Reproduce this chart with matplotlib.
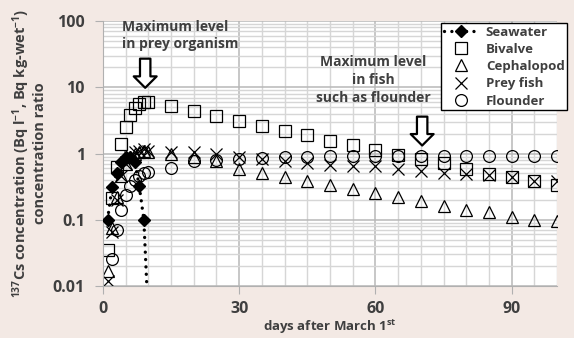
import matplotlib
matplotlib.use("Agg")
import matplotlib.pyplot as plt
from matplotlib.ticker import MultipleLocator, LogLocator, NullFormatter

plt.rcParams['font.family'] = ['Open Sans', 'DejaVu Sans']
plt.rcParams['font.weight'] = 'bold'
plt.rcParams['axes.labelweight'] = 'bold'
plt.rcParams['mathtext.fontset'] = 'custom'
plt.rcParams['mathtext.rm'] = 'Open Sans:bold'
plt.rcParams['mathtext.it'] = 'Open Sans:bold'
plt.rcParams['mathtext.bf'] = 'Open Sans:bold'

# --- data (days after March 1st)
sea_days = [1, 2, 3, 4, 5, 6, 7, 8, 9, 10]
seawater = [0.1, 0.31, 0.5, 0.75, 0.9, 0.9, 0.75, 0.32, 0.1, 0.003]

late_days = [15, 20, 25, 30, 35, 40, 45, 50, 55, 60, 65, 70, 75, 80, 85, 90, 95, 100]
early_days = [1, 2, 3, 4, 5, 6, 7, 8, 9, 10]

bivalve = [0.035, 0.21, 0.63, 1.4, 2.5, 3.8, 4.9, 5.5, 5.9, 6.0,
           5.2, 4.4, 3.7, 3.1, 2.6, 2.2, 1.88, 1.56, 1.33, 1.13, 0.95,
           0.82, 0.71, 0.59, 0.49, 0.44, 0.39, 0.34]
cephalopod = [0.017, 0.075, 0.22, 0.45, 0.7, 0.9, 1.0, 1.05, 1.1, 1.05,
              1.0, 0.88, 0.76, 0.58, 0.51, 0.44, 0.39, 0.33, 0.29, 0.25,
              0.22, 0.19, 0.16, 0.14, 0.13, 0.11, 0.1, 0.095]
prey_fish = [0.012, 0.065, 0.2, 0.45, 0.7, 0.9, 1.05, 1.1, 1.15, 1.1,
             1.06, 1.06, 1.0, 0.88, 0.82, 0.76, 0.72, 0.67, 0.65, 0.64,
             0.58, 0.55, 0.51, 0.49, 0.47, 0.44, 0.39, 0.38]
flounder_days = [2, 3, 4, 5, 6, 7, 8, 9, 10] + late_days
flounder = [0.026, 0.07, 0.14, 0.24, 0.32, 0.4, 0.45, 0.5, 0.53,
            0.6, 0.77, 0.8, 0.82, 0.85, 0.88, 0.9, 0.92, 0.92, 0.92,
            0.92, 0.92, 0.92, 0.92, 0.92, 0.92, 0.92, 0.92]

bg = "#f3e9e4"
txt = "#3f3f3f"

fig = plt.figure(figsize=(5.74, 3.38), dpi=100, facecolor=bg)
ax = fig.add_axes([0.1794, 0.1538, 0.9704 - 0.1794, 0.9379 - 0.1538])
ax.set_facecolor("white")

mk = dict(ls="none", mfc="none", mec="black", mew=0.9, ms=8.5)
ax.plot(sea_days, seawater, ls=(0, (0.01, 2.2)), lw=2.4, color="black",
        dash_capstyle="round", marker="D", ms=6.5, mfc="black",
        label="Seawater", zorder=4)
ax.plot(early_days + late_days, bivalve, marker="s", label="Bivalve", **mk)
ax.plot(early_days + late_days, cephalopod, marker="^", label="Cephalopod", **mk)
ax.plot(early_days + late_days, prey_fish, marker="x", label="Prey fish", **mk)
ax.plot(flounder_days, flounder, marker="o", label="Flounder", **mk)

# --- axes
ax.set_yscale("log")
ax.set_xlim(0, 100)
ax.set_ylim(0.01, 100)
ax.set_xticks([0, 30, 60, 90])
ax.set_yticks([0.01, 0.1, 1, 10, 100])
ax.set_yticklabels(["0.01", "0.1", "1", "10", "100"])
ax.xaxis.set_minor_locator(MultipleLocator(5))
ax.yaxis.set_minor_locator(LogLocator(base=10, subs=range(2, 10)))
ax.yaxis.set_minor_formatter(NullFormatter())
ax.tick_params(which="major", length=6, color="#b0b0b0", labelsize=11.5,
               labelcolor=txt)
ax.tick_params(axis="y", which="major", pad=7)
ax.tick_params(axis="x", which="major", pad=5)
ax.tick_params(which="minor", length=0)
for lab in ax.get_xticklabels() + ax.get_yticklabels():
    lab.set_fontweight("bold")
ax.grid(which="minor", color="#d6d6d6", lw=1.0)
ax.grid(which="major", color="#b8b8b8", lw=1.1)
ax.set_axisbelow(True)
for side in ["top", "right"]:
    ax.spines[side].set_visible(False)
for side in ["left", "bottom"]:
    ax.spines[side].set_color("#b0b0b0")

ax.set_xlabel("days after March 1$^{st}$", fontsize=9.5, color=txt,
              labelpad=0.5, fontweight="bold")
ax.set_ylabel("$^{137}$Cs concentration (Bq l$^{-1}$, Bq kg-wet$^{-1}$)\n"
              "concentration ratio", fontsize=10.5, color=txt, labelpad=4,
              linespacing=1.1, fontweight="bold")

# --- annotations
arrow = dict(arrowstyle="simple,head_length=0.55,head_width=1.1,tail_width=0.5",
             fc="white", ec="black", lw=1.6, mutation_scale=15,
             shrinkA=0, shrinkB=0)
ax.text(4.2, 61, "Maximum level\nin prey organism", ha="left", va="center",
        fontsize=10, color=txt, linespacing=1.3, fontweight="bold")
ax.annotate("", xy=(9.3, 9.8), xytext=(9.3, 27), arrowprops=arrow)
ax.text(59.6, 12.8, "Maximum level\nin fish\nsuch as flounder", ha="center",
        va="center", fontsize=10, color=txt, linespacing=1.35,
        fontweight="bold")
ax.annotate("", xy=(70.3, 1.32), xytext=(70.3, 3.6), arrowprops=arrow)

leg = ax.legend(loc="upper left", bbox_to_anchor=(441 / 574, 1 - 23 / 338),
                bbox_transform=fig.transFigure, frameon=True,
                prop=dict(size=9.5, weight="bold"),
                fancybox=False, edgecolor="black", framealpha=1,
                borderpad=0.2, labelspacing=0.32, handlelength=2.6,
                handletextpad=0.6, borderaxespad=0)
leg.get_frame().set_linewidth(1.0)
for t in leg.get_texts():
    t.set_color(txt)

fig.savefig("out.png", dpi=100, facecolor=bg)
